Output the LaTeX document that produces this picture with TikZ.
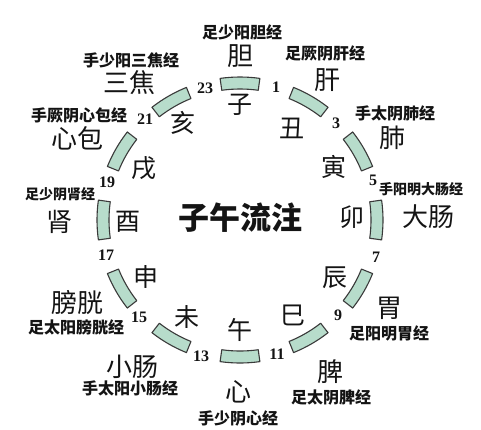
\documentclass[tikz,border=0pt]{standalone}
\usepackage{fontspec}
\newfontfamily\cjk{Noto Sans CJK SC}
\newfontfamily\numfont{Liberation Serif}
\definecolor{segfill}{HTML}{B7DCCB}
\definecolor{segline}{HTML}{3A3A3A}
\definecolor{txt}{HTML}{141414}
\tikzset{
  branch/.style={font=\cjk\fontsize{25}{25}\selectfont, text=txt, inner sep=0pt},
  organ/.style={font=\cjk\fontsize{26}{26}\selectfont, text=txt, inner sep=0pt},
  meridian/.style={font=\cjk\bfseries\fontsize{16}{16}\selectfont, text=txt, inner sep=0pt},
  smallmer/.style={font=\cjk\bfseries\fontsize{14}{14}\selectfont, text=txt, inner sep=0pt},
  hour/.style={font=\numfont\bfseries\fontsize{16}{16}\selectfont, text=txt, inner sep=0pt},
  titletext/.style={font=\cjk\bfseries\fontsize{31}{31}\selectfont, text=txt, inner sep=0pt},
  seg/.style={fill=segfill, draw=segline, line width=1.1pt, line join=round}
}
\begin{document}
\begin{tikzpicture}[x=1pt,y=-1pt]
\useasboundingbox[fill=white] (0,0) rectangle (481,429);
% segments
\begin{scope}[shift={(240,220)}]
\foreach \k in {0,...,11}{
  \pgfmathsetmacro{\a}{30*\k-90}
  \draw[seg] plot[domain=-8:8, samples=9] ({\a+\x}:131) -- plot[domain=8:-8, samples=9] ({\a+\x}:143) -- cycle;
}
\end{scope}
% title
\node[titletext] (title) at (240,218) {子午流注};
% branches
\node[branch] (zi)   at (240,105) {子};
\node[branch] (chou) at (292,128) {丑};
\node[branch] (yin)  at (334,167) {寅};
\node[branch] (mao)  at (352,217) {卯};
\node[branch] (chen) at (335,278) {辰};
\node[branch] (si)   at (293,315) {巳};
\node[branch] (wu)   at (240,330) {午};
\node[branch] (wei)  at (187,317) {未};
\node[branch] (shen) at (146,277) {申};
\node[branch] (you)  at (128,222) {酉};
\node[branch] (xu)   at (144,168) {戌};
\node[branch] (hai)  at (183,123) {亥};
% organs
\node[organ] (dan)  at (240,56)  {胆};
\node[organ] (gan)  at (327,80)  {肝};
\node[organ] (fei)  at (392,138) {肺};
\node[organ] (dac)  at (428,217) {大肠};
\node[organ] (weiO) at (389,308) {胃};
\node[organ] (pi)   at (330,372) {脾};
\node[organ] (xin)  at (238,392) {心};
\node[organ] (xc)   at (132,367) {小肠};
\node[organ] (pg)   at (77,303)  {膀胱};
\node[organ] (shn)  at (59,222)  {肾};
\node[organ] (xb)   at (77,138)  {心包};
\node[organ] (sj)   at (129,83)  {三焦};
% meridians
\node[meridian] (m1)  at (242,32)  {足少阳胆经};
\node[meridian] (m2)  at (325,53)  {足厥阴肝经};
\node[meridian] (m3)  at (395,113) {手太阴肺经};
\node[smallmer] (m4)  at (421,189) {手阳明大肠经};
\node[meridian] (m5)  at (389,333) {足阳明胃经};
\node[meridian] (m6)  at (331,397) {足太阴脾经};
\node[meridian] (m7)  at (238,418) {手少阴心经};
\node[meridian] (m8)  at (130,388) {手太阳小肠经};
\node[meridian] (m9)  at (76,327)  {足太阳膀胱经};
\node[smallmer] (m10) at (60,194)  {足少阴肾经};
\node[meridian] (m11) at (79,115)  {手厥阴心包经};
\node[meridian] (m12) at (131,60)  {手少阳三焦经};
% hours
\node[hour] (h1)  at (276,87)  {1};
\node[hour] (h3)  at (336,123) {3};
\node[hour] (h5)  at (373,180) {5};
\node[hour] (h7)  at (376,257) {7};
\node[hour] (h9)  at (338,315) {9};
\node[hour] (h11) at (277,354) {11};
\node[hour] (h13) at (201,356) {13};
\node[hour] (h15) at (139,317) {15};
\node[hour] (h17) at (106,255) {17};
\node[hour] (h19) at (107,182) {19};
\node[hour] (h21) at (145,119) {21};
\node[hour] (h23) at (205,88)  {23};
\end{tikzpicture}
\end{document}
